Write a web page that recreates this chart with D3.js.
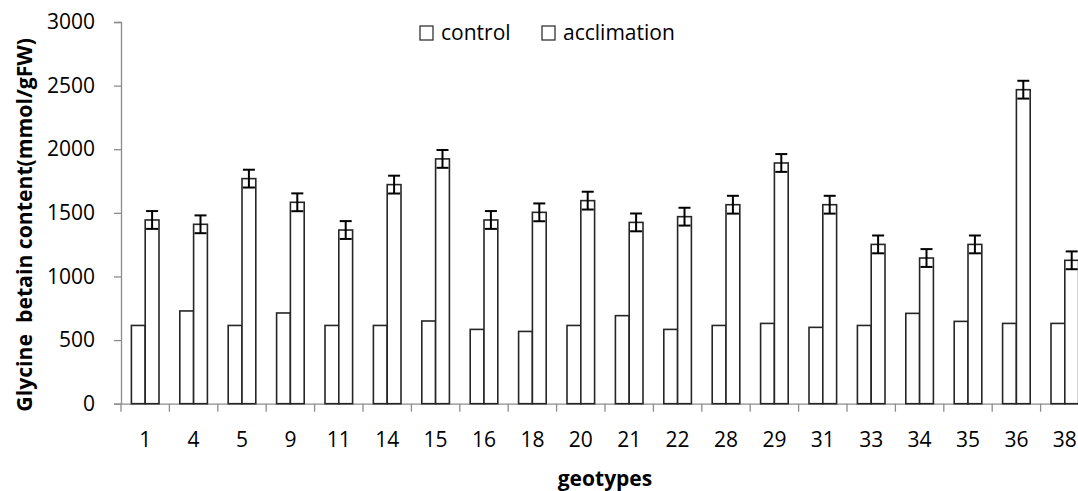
<!DOCTYPE html>
<html>
<head>
<meta charset="utf-8">
<script src="https://cdn.jsdelivr.net/npm/d3@7"></script>
<style>
  body { margin: 0; background: #fff; }
  svg { display: block; font-family: "Open Sans", "Noto Sans", sans-serif; }
</style>
</head>
<body>
<svg id="chart" width="1078" height="491"></svg>
<script>
const genotypes = ["1","4","5","9","11","14","15","16","18","20","21","22","28","29","31","33","34","35","36","38"];
const controlValues = [615,729,615,713,615,615,650,584,568,615,692,584,615,631,600,615,710,647,631,631];
const acclimationValues = [1444,1410,1769,1583,1365,1722,1924,1444,1504,1596,1425,1470,1564,1892,1564,1252,1145,1252,2468,1127];
const acclimationErrors = [70,70,70,70,70,70,70,70,70,70,70,70,70,70,70,70,70,70,70,70];
const seriesNames = ["control", "acclimation"];
const yTicks = [0,500,1000,1500,2000,2500,3000];

const svg = d3.select("#chart");
const margin = {top: 22, left: 121, bottom: 87};
const height = 491;
const bandStep = 48.4;

const x = d3.scaleBand()
    .domain(genotypes)
    .range([margin.left, margin.left + bandStep * genotypes.length])
    .paddingInner(0).paddingOuter(0);

const barW = 13.8;
const x1 = d3.scaleBand()
    .domain(seriesNames)
    .range([(bandStep - 2 * barW) / 2, (bandStep + 2 * barW) / 2]);

const y = d3.scaleLinear()
    .domain([0, 3000])
    .range([height - margin.bottom - 0.3, margin.top]);

const data = genotypes.map((g, i) => ({
    name: g, control: controlValues[i], acclimation: acclimationValues[i], err: acclimationErrors[i]
}));

// axes
const yAxis = d3.axisLeft(y).tickValues(yTicks).tickSize(7).tickPadding(19).tickFormat(d3.format("d"));
const xAxis = d3.axisBottom(x).tickSize(0);

const yAxisGroup = svg.append("g")
    .attr("class", "yAxis")
    .attr("transform", `translate(${margin.left}, 0)`)
    .call(yAxis);

const xAxisGroup = svg.append("g")
    .attr("class", "xAxis")
    .attr("transform", `translate(0, ${y(0)})`)
    .call(xAxis);

// category separator ticks
xAxisGroup.selectAll("line.sep")
    .data(genotypes)
    .enter()
    .append("line")
    .attr("class", "sep")
    .attr("x1", d => x(d)).attr("x2", d => x(d))
    .attr("y1", 0).attr("y2", 8)
    .attr("stroke", "#8c8c8c").attr("stroke-width", 1.3);

svg.selectAll(".domain").attr("stroke", "#8c8c8c").attr("stroke-width", 1.3);
svg.selectAll(".yAxis .tick line").attr("stroke", "#8c8c8c").attr("stroke-width", 1.3);
svg.selectAll(".tick text").attr("font-size", 21).attr("fill", "#000")
    .attr("font-family", "'Open Sans', sans-serif");
xAxisGroup.selectAll(".tick text").attr("y", 43).attr("dy", 0);
xAxisGroup.select(".domain").attr("d", `M${margin.left},0.5H${x.range()[1]}`);

// bars
const groups = svg.selectAll("g.group")
    .data(data)
    .enter()
    .append("g")
    .attr("class", "group")
    .attr("transform", d => `translate(${x(d.name)},0)`);

groups.selectAll("rect.bar")
    .data(d => seriesNames.map(s => ({key: s, value: d[s]})))
    .enter()
    .append("rect")
    .attr("class", "bar")
    .attr("x", d => x1(d.key))
    .attr("width", x1.bandwidth())
    .attr("y", d => y(d.value))
    .attr("height", d => y(0) - y(d.value))
    .attr("fill", "#fff")
    .attr("stroke", "#262626")
    .attr("stroke-width", 1.6);

// error bars on acclimation
const errX = x1("acclimation") + x1.bandwidth() / 2;
const err = groups.append("g").attr("class", "err").attr("stroke", "#000").attr("stroke-width", 2);
err.append("line")
    .attr("x1", errX).attr("x2", errX)
    .attr("y1", d => y(d.acclimation + d.err))
    .attr("y2", d => y(d.acclimation - d.err));
err.append("line")
    .attr("x1", errX - 6).attr("x2", errX + 6)
    .attr("y1", d => y(d.acclimation + d.err))
    .attr("y2", d => y(d.acclimation + d.err));
err.append("line")
    .attr("x1", errX - 6).attr("x2", errX + 6)
    .attr("y1", d => y(d.acclimation - d.err))
    .attr("y2", d => y(d.acclimation - d.err));

// legend
const legendX = [420, 542];
const legend = svg.selectAll("g.legend")
    .data(seriesNames)
    .enter()
    .append("g")
    .attr("class", "legend")
    .attr("transform", (d, i) => `translate(${legendX[i]}, 26)`);
legend.append("rect")
    .attr("width", 13).attr("height", 14)
    .attr("fill", "#fff").attr("stroke", "#333").attr("stroke-width", 1.3);
legend.append("text")
    .attr("x", 21).attr("y", 13.5)
    .attr("font-size", 21)
    .text(d => d);

// axis titles
svg.append("text")
    .attr("transform", `translate(32, ${(y(0) + y(3000)) / 2 + 12}) rotate(-90)`)
    .attr("text-anchor", "middle")
    .attr("font-size", 21.2)
    .attr("font-weight", "bold")
    .attr("xml:space", "preserve")
    .text("Glycine  betain content(mmol/gFW)");

svg.append("text")
    .attr("x", 605).attr("y", 486)
    .attr("text-anchor", "middle")
    .attr("font-size", 21)
    .attr("font-weight", "bold")
    .text("geotypes");
</script>
</body>
</html>
